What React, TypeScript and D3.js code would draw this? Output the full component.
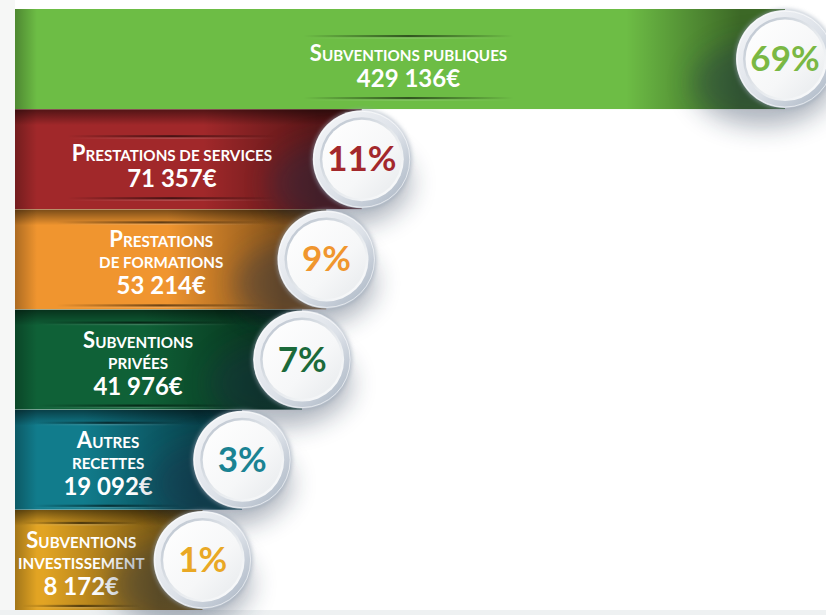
import React from "react";
import * as d3 from "d3";

const categories = [
  "Subventions publiques",
  "Prestations de services",
  "Prestations de formations",
  "Subventions privées",
  "Autres recettes",
  "Subventions investissement",
];
const amounts = [429136, 71357, 53214, 41976, 19092, 8172];
const labelLines = [
  ["Subventions publiques"],
  ["Prestations de services"],
  ["Prestations", "de formations"],
  ["Subventions", "privées"],
  ["Autres", "recettes"],
  ["Subventions", "investissement"],
];
const barColors = ["#6dbd45", "#a1282a", "#f0952f", "#0f6137", "#117c8c", "#e2a423"];
const pctColors = ["#7ab843", "#a3282c", "#f0962e", "#1b6a3a", "#1a8393", "#e9a825"];

const W = 826;
const H = 615;
const X0 = 15;
const R = 49;
const FONT = "Lato, 'Open Sans', sans-serif";
const BIG = 22;
const SMALL = 15.2;

function smallCaps(line: string) {
  const words = line.split(" ");
  const parts: { t: string; big: boolean }[] = [];
  words.forEach((w, wi) => {
    const sep = wi > 0 ? " " : "";
    const f = w.charAt(0);
    if (f !== f.toLowerCase()) {
      parts.push({ t: sep + f, big: true });
      parts.push({ t: w.slice(1).toUpperCase(), big: false });
    } else {
      parts.push({ t: sep + w.toUpperCase(), big: false });
    }
  });
  return parts;
}

export default function App() {
  const total = d3.sum(amounts);
  const y = d3.scaleBand<string>().domain(categories).range([9, 610]).padding(0);
  const x = d3
    .scalePow()
    .exponent(0.6)
    .domain([0, d3.max(amounts) as number])
    .range([X0 + 128, X0 + 770]);
  const fmtAmount = (v: number) => d3.format(",")(v).replace(/,/g, " ") + "€";
  const fmtPct = (v: number) => Math.round((v / total) * 100) + "%";
  const nudge = [33, 8, 15, 4, 4, -3];

  const rows = categories.map((c, i) => {
    const top = y(c) as number;
    const h = y.bandwidth();
    const cx = x(amounts[i]);
    const cy = top + h / 2;
    const n = labelLines[i].length;
    const first = top + 52 - (n - 1) * 14;
    const numY = first + (n - 1) * 21 + 26;
    const tx = (X0 + cx - R) / 2 + nudge[i];
    const lineW = Math.min(210, (cx - R - X0) * 0.85);
    return { c, i, top, h, cx, cy, n, first, numY, tx, lineW };
  });

  return (
    <svg
      width={W}
      height={H}
      style={{ position: "absolute", left: 0, top: 0 }}
      fontFamily={FONT}
    >
      <defs>
        <linearGradient id="ring" x1="0" y1="0" x2="1" y2="1">
          <stop offset="0" stopColor="#f7f8fa" />
          <stop offset="0.55" stopColor="#dce1e8" />
          <stop offset="1" stopColor="#a5b1c0" />
        </linearGradient>
        <linearGradient id="rim" x1="0" y1="0" x2="1" y2="1">
          <stop offset="0" stopColor="#b6bfcb" />
          <stop offset="0.5" stopColor="#e4e8ec" />
          <stop offset="1" stopColor="#ffffff" />
        </linearGradient>
        <linearGradient id="face" x1="0" y1="0" x2="1" y2="1">
          <stop offset="0" stopColor="#ffffff" />
          <stop offset="0.6" stopColor="#f6f7f8" />
          <stop offset="1" stopColor="#e6e9ec" />
        </linearGradient>
        <linearGradient id="leftEdge" x1="0" y1="0" x2="1" y2="0">
          <stop offset="0" stopColor="#000" stopOpacity="0.28" />
          <stop offset="1" stopColor="#000" stopOpacity="0" />
        </linearGradient>
        <linearGradient id="topShade" x1="0" y1="0" x2="0" y2="1">
          <stop offset="0" stopColor="#000" stopOpacity="0.5" />
          <stop offset="1" stopColor="#000" stopOpacity="0" />
        </linearGradient>
        <linearGradient id="deco" x1="0" y1="0" x2="1" y2="0">
          <stop offset="0" stopColor="#000" stopOpacity="0" />
          <stop offset="0.5" stopColor="#000" stopOpacity="0.55" />
          <stop offset="1" stopColor="#000" stopOpacity="0" />
        </linearGradient>
        <linearGradient id="decoLight" x1="0" y1="0" x2="1" y2="0">
          <stop offset="0" stopColor="#fff" stopOpacity="0" />
          <stop offset="0.5" stopColor="#fff" stopOpacity="0.18" />
          <stop offset="1" stopColor="#fff" stopOpacity="0" />
        </linearGradient>
        <filter id="blur" x="-50%" y="-50%" width="200%" height="200%">
          <feGaussianBlur stdDeviation="13" />
        </filter>
        <filter id="blurS" x="-50%" y="-50%" width="200%" height="200%">
          <feGaussianBlur stdDeviation="2" />
        </filter>
        {rows.map((r) => (
          <React.Fragment key={r.c}>
            <clipPath id={`clip${r.i}`}>
              <rect x={X0} y={r.top} width={r.cx - X0} height={r.h} />
            </clipPath>
            <linearGradient
              id={`endShade${r.i}`}
              gradientUnits="userSpaceOnUse"
              x1={r.cx - R - 110}
              y1="0"
              x2={r.cx - R + 5}
              y2="0"
            >
              <stop offset="0" stopColor="#000" stopOpacity="0" />
              <stop offset="1" stopColor="#000" stopOpacity="0.45" />
            </linearGradient>
          </React.Fragment>
        ))}
      </defs>

      <rect x={0} y={0} width={W} height={H} fill="#ffffff" />
      <rect x={0} y={0} width={X0} height={H} fill="#f6f7f6" />
      <rect x={0} y={610} width={W} height={5} fill="#eef1f2" />

      {rows.map((r) => (
        <g key={r.c} clipPath={`url(#clip${r.i})`}>
          <rect x={X0} y={r.top} width={r.cx - X0} height={r.h} fill={barColors[r.i]} />
          <rect x={X0} y={r.top} width={r.cx - X0} height={r.h} fill={`url(#endShade${r.i})`} />
          <rect x={X0} y={r.top} width={22} height={r.h} fill="url(#leftEdge)" />
          {r.i > 0 && (
            <rect x={X0} y={r.top} width={r.cx - X0} height={16} fill="url(#topShade)" />
          )}
        </g>
      ))}

      {rows.map((r) => (
        <g key={`t${r.c}`}>
          {[r.first - 25, r.numY + 11].map((ly, k) => (
            <g key={k}>
              <rect
                x={r.tx - r.lineW / 2}
                y={ly - 1}
                width={r.lineW}
                height={2.2}
                fill="url(#deco)"
              />
              <rect
                x={r.tx - r.lineW / 2}
                y={ly + 1.2}
                width={r.lineW}
                height={1.5}
                fill="url(#decoLight)"
              />
            </g>
          ))}
          {labelLines[r.i].map((ln, k) => (
            <text
              key={k}
              x={r.tx}
              y={r.first + k * 21}
              textAnchor="middle"
              fill="#ffffff"
              fontWeight="700"
              fontSize={SMALL}
            >
              {smallCaps(ln).map((p, j) => (
                <tspan key={j} fontSize={p.big ? BIG : SMALL}>
                  {p.t}
                </tspan>
              ))}
            </text>
          ))}
          <text
            x={r.tx}
            y={r.numY}
            textAnchor="middle"
            fill="#ffffff"
            fontWeight="700"
            fontSize={24}
          >
            {fmtAmount(amounts[r.i])}
          </text>
        </g>
      ))}

      {rows.map((r) => (
        <ellipse
          key={`s${r.c}`}
          cx={r.cx - 22}
          cy={r.cy + 24}
          rx={R + 22}
          ry={R - 6}
          fill="#1f2d48"
          opacity={0.36}
          filter="url(#blur)"
        />
      ))}

      {rows.map((r) => (
        <g key={`c${r.c}`}>
          <circle cx={r.cx} cy={r.cy} r={R + 1} fill="#9aa6b5" opacity={0.6} filter="url(#blurS)" />
          <circle cx={r.cx} cy={r.cy} r={R} fill="url(#ring)" />
          <circle cx={r.cx} cy={r.cy} r={R - 1} fill="none" stroke="#ffffff" strokeOpacity={0.6} strokeWidth={1} />
          <circle cx={r.cx} cy={r.cy} r={R - 7} fill="url(#rim)" />
          <circle cx={r.cx} cy={r.cy} r={R - 9.5} fill="url(#face)" />
          <text
            x={r.cx}
            y={r.cy + 12}
            textAnchor="middle"
            fill={pctColors[r.i]}
            fontWeight="700"
            fontSize={35}
          >
            {fmtPct(amounts[r.i])}
          </text>
        </g>
      ))}
    </svg>
  );
}
